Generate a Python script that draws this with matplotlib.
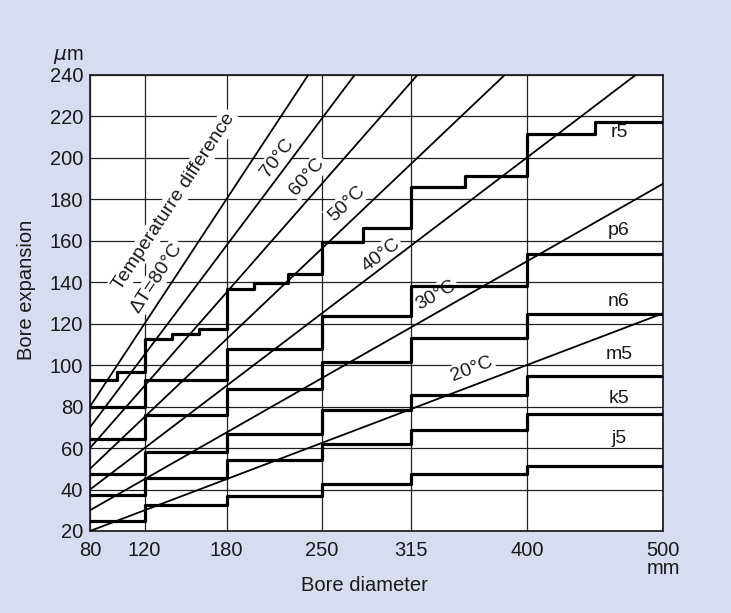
import numpy as np
import matplotlib
matplotlib.use("Agg")
import matplotlib.pyplot as plt

plt.rcParams['font.family'] = ['Liberation Sans', 'DejaVu Sans']

# Tolerance steps (bore diameter edges, mm -> bore expansion, um)
r5_edges = [80, 100, 120, 140, 160, 180, 200, 225, 250, 280, 315, 355, 400, 450, 500]
r5_vals = [93, 96.5, 112.6, 114.8, 117.2, 136.5, 139.4, 143.8, 159.3, 166.2, 185.7, 191.2, 211.6, 217.2]

fit_edges = [80, 120, 180, 250, 315, 400, 500]
p6_vals = [79.6, 92.7, 107.9, 123.7, 138.1, 153.6]
n6_vals = [64.5, 75.8, 88.6, 101.5, 113.2, 124.6]
m5_vals = [47.6, 58.1, 66.8, 78.2, 85.4, 94.9]
k5_vals = [37.4, 45.4, 54.2, 62.0, 68.7, 76.6]
j5_vals = [25.0, 32.7, 36.9, 42.5, 47.5, 51.5]

fit_names = ['r5', 'p6', 'n6', 'm5', 'k5', 'j5']
fit_label_y = [212, 165, 130.5, 105.3, 84.1, 64.8]

# Temperature difference lines: start (x0, y0) and end (x1, y1)
temp_names = ['80', '70', '60', '50', '40', '30', '20']
temp_x0 = [80, 80, 80, 80, 80, 80, 80]
temp_y0 = [80, 70, 60, 50, 40, 30, 20]
temp_x1 = [240, 274, 320, 384, 480, 500, 500]
temp_y1 = [240, 240, 240, 240, 240, 187.5, 125]
# label centre for each line (70..20)
temp_lab_x = [217.4, 239.3, 268, 293, 333.4, 359.6]
temp_lab_y = [199.8, 190.8, 178, 153, 133.8, 98]

x_ticks = [80, 120, 180, 250, 315, 400, 500]
y_ticks = list(range(20, 241, 20))

W, H = 731, 613
fig = plt.figure(figsize=(W / 100, H / 100), dpi=100, facecolor='#d7dcee')
ax = fig.add_axes([90 / W, 1 - 531 / H, (663.3 - 90) / W, (531 - 74.7) / H])
ax.set_facecolor('white')
ax.set_xlim(80, 500)
ax.set_ylim(20, 240)

ax.set_xticks(x_ticks)
ax.set_xticklabels([str(v) for v in x_ticks])
ax.set_yticks(y_ticks)
ax.tick_params(length=0, labelsize=14.5, colors='#1a1a1a')
ax.tick_params(axis='y', pad=5)
ax.tick_params(axis='x', pad=7.5)
ax.set_axisbelow(True)
ax.grid(True, color='#222222', lw=0.9)
for s in ax.spines.values():
    s.set_linewidth(1.3)
    s.set_color('#222222')

# step lines
for edges, vals in [(r5_edges, r5_vals), (fit_edges, p6_vals), (fit_edges, n6_vals),
                    (fit_edges, m5_vals), (fit_edges, k5_vals), (fit_edges, j5_vals)]:
    ax.step(edges, list(vals) + [vals[-1]], where='post', color='black', lw=2.3, zorder=4)

# temperature lines
for x0, y0, x1, y1 in zip(temp_x0, temp_y0, temp_x1, temp_y1):
    ax.plot([x0, x1], [y0, y1], color='black', lw=1.3, zorder=3, solid_capstyle='butt')

box = dict(facecolor='white', edgecolor='none', pad=1.5)
for i, (lx, ly) in enumerate(zip(temp_lab_x, temp_lab_y)):
    j = i + 1
    ang = np.degrees(np.arctan2(temp_y1[j] - temp_y0[j], temp_x1[j] - temp_x0[j]))
    ax.text(lx, ly, temp_names[j] + '°C', fontsize=14, rotation=ang, transform_rotates_text=True,
            rotation_mode='anchor', ha='center', va='center', bbox=box, zorder=2, color='#1a1a1a')

ang80 = np.degrees(np.arctan2(temp_y1[0] - temp_y0[0], temp_x1[0] - temp_x0[0]))
ax.text(141.5, 179, 'Temperaturre difference', fontsize=14, rotation=ang80, transform_rotates_text=True,
        rotation_mode='anchor', ha='center', va='center', bbox=box, zorder=2, color='#1a1a1a')
ax.text(129, 142, 'ΔT=80°C', fontsize=14, rotation=ang80, transform_rotates_text=True,
        rotation_mode='anchor', ha='center', va='center', bbox=box, zorder=2, color='#1a1a1a')

for name, ly in zip(fit_names, fit_label_y):
    ax.text(467.5, ly, name, fontsize=14, ha='center', va='center', color='#1a1a1a', zorder=2)

fig.text(26 / W, 1 - 290 / H, 'Bore expansion', rotation=90, ha='center', va='center',
         fontsize=14.5, color='#1a1a1a')
fig.text(364.5 / W, 1 - 585.7 / H, 'Bore diameter', ha='center', va='center',
         fontsize=14.5, color='#1a1a1a')
fig.text(83 / W, 1 - 57 / H, r'$\mu$m', ha='right', va='center', fontsize=14.5, color='#1a1a1a')
fig.text(663.3 / W, 1 - 569 / H, 'mm', ha='center', va='center', fontsize=14.5, color='#1a1a1a')

fig.savefig('out.png', dpi=100, facecolor=fig.get_facecolor())
